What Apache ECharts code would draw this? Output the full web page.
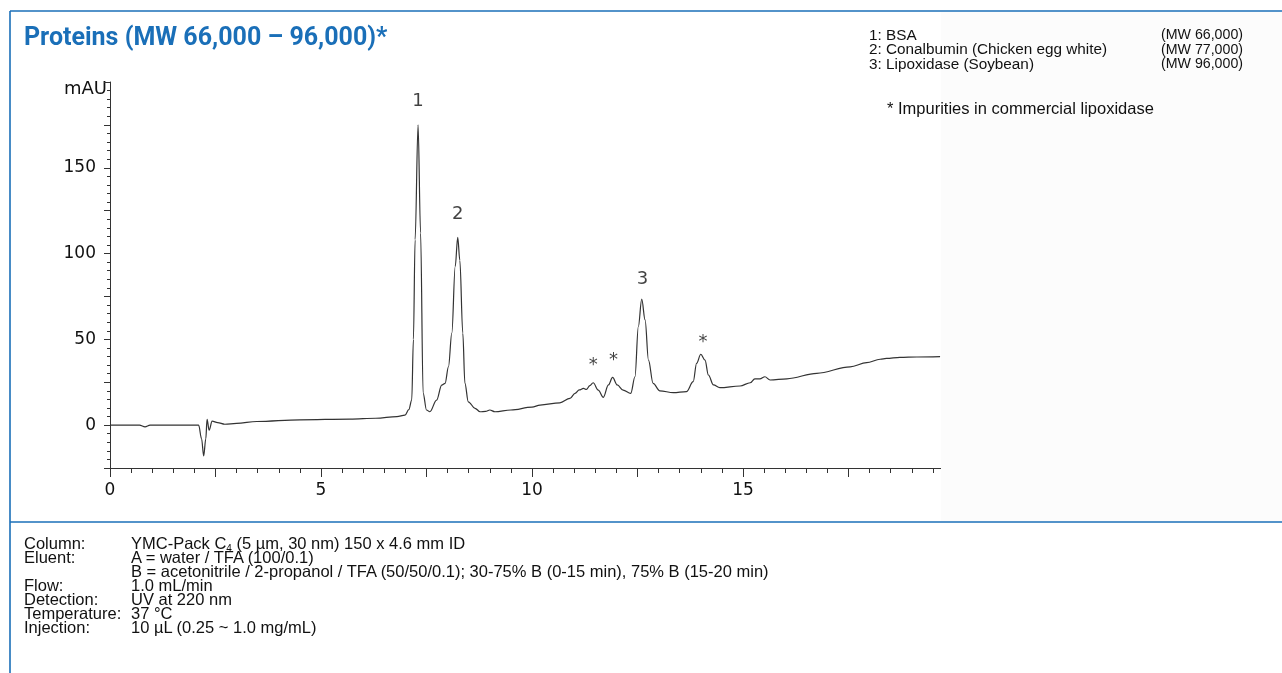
<!DOCTYPE html>
<html>
<head>
<meta charset="utf-8">
<script src="https://cdn.jsdelivr.net/npm/echarts@6/dist/echarts.min.js"></script>
<style>
  html, body { margin: 0; padding: 0; background: #ffffff; }
  #wrap { position: relative; width: 1282px; height: 673px; overflow: hidden; }
  #chart { position: absolute; left: 0; top: 0; width: 1282px; height: 673px; }
  #specs { position: absolute; left: 24px; top: 536px; font-family: "Liberation Sans", Arial, sans-serif;
           font-size: 16.5px; line-height: 14px; color: #111; white-space: nowrap; }
  #specs .row { display: flex; height: 14px; }
  #specs .k { width: 107px; }
  #specs sub { font-size: 10px; vertical-align: -3px; line-height: 0; }
</style>
</head>
<body>
<div id="wrap">
  <div id="chart"></div>
  <div id="specs">
    <div class="row"><div class="k">Column:</div><div>YMC-Pack C<sub>4</sub> (5 µm, 30 nm) 150 x 4.6 mm ID</div></div>
    <div class="row"><div class="k">Eluent:</div><div>A = water / TFA (100/0.1)</div></div>
    <div class="row"><div class="k"></div><div>B = acetonitrile / 2-propanol / TFA (50/50/0.1); 30-75% B (0-15 min), 75% B (15-20 min)</div></div>
    <div class="row"><div class="k">Flow:</div><div>1.0 mL/min</div></div>
    <div class="row"><div class="k">Detection:</div><div>UV at 220 nm</div></div>
    <div class="row"><div class="k">Temperature:</div><div>37 °C</div></div>
    <div class="row"><div class="k">Injection:</div><div>10 µL (0.25 ~ 1.0 mg/mL)</div></div>
  </div>
</div>
<script>
// ---- data ----
const times = [0, 0.7, 0.83, 0.95, 2.1, 2.17, 2.22, 2.27, 2.3, 2.35, 2.42, 2.55, 2.72, 3.0, 3.48, 4.5, 5.69, 6.3, 6.8, 6.99, 7.08, 7.15, 7.19, 7.23, 7.3, 7.36, 7.42, 7.5, 7.58, 7.74, 7.86, 7.94, 8.02, 8.1, 8.18, 8.24, 8.29, 8.36, 8.41, 8.49, 8.65, 8.77, 8.9, 9.0, 9.12, 9.5, 10.0, 10.19, 10.66, 10.9, 11.02, 11.12, 11.22, 11.29, 11.37, 11.45, 11.57, 11.69, 11.81, 11.91, 12.02, 12.16, 12.34, 12.44, 12.52, 12.6, 12.68, 12.76, 12.87, 13.03, 13.35, 13.66, 13.82, 13.9, 14.0, 14.1, 14.18, 14.3, 14.45, 14.93, 15.17, 15.28, 15.4, 15.52, 15.64, 16.04, 16.75, 17.54, 17.93, 18.25, 18.4, 18.72, 19.12, 19.67];
const signal = [0, 0, -1, 0, 0, -8, -18, -8, 3.3, -3, 2.3, 1.5, 0.5, 1, 2.1, 3.1, 3.5, 4, 5, 5.8, 9, 14.6, 50, 108, 175, 112, 18.7, 8.8, 7.8, 14.6, 23.3, 24.3, 34, 53.6, 92.4, 109.5, 96, 53.6, 24.5, 13.6, 9.8, 7.8, 8, 8.8, 7.8, 8.8, 10.5, 11.7, 13, 15.6, 18.5, 20.5, 21.4, 20.8, 23, 24.7, 20.4, 16.2, 23.4, 27.8, 23.4, 20.4, 18.5, 28.2, 57.4, 73.4, 61.3, 37.9, 24.3, 20, 18.9, 19.5, 25.3, 36, 41.3, 37.9, 29.2, 23.4, 21.8, 22.8, 24.7, 27, 26.9, 28.2, 26.3, 27, 30.2, 34, 36.4, 38.4, 38.9, 39.5, 39.7, 39.9];

const peakTimes  = [7.3, 8.24, 12.62, 11.45, 11.93, 14.05];
const peakLabelY = [189, 123, 85, 35, 37.5, 48];
const peakTexts  = ['1', '2', '3', '*', '*', '*'];

const xTickValues = [0, 5, 10, 15, 20];
const yTickValues = [0, 50, 100, 150];

const title = 'Proteins (MW 66,000 – 96,000)*';
const legendNames = ['1: BSA', '2: Conalbumin (Chicken egg white)', '3: Lipoxidase (Soybean)'];
const legendMW = ['(MW 66,000)', '(MW 77,000)', '(MW 96,000)'];
const footnote = '* Impurities in commercial lipoxidase';

// ---- chart ----
const chart = echarts.init(document.getElementById('chart'), null, { renderer: 'canvas' });
const lineData = times.map((t, i) => [t, signal[i]]);
const annData = peakTimes.map((t, i) => ({ value: [t, peakLabelY[i]], name: peakTexts[i] }));
const blue = '#1a6fb8';
const axisFont = '"DejaVu Sans", Verdana, sans-serif';
const txtFont = '"Liberation Sans", Arial, sans-serif';

const graphics = [
  { type: 'rect', shape: { x: 941, y: 12, width: 341, height: 509 }, style: { fill: '#fcfcfc' }, z: 50 },
  { type: 'line', shape: { x1: 10, y1: 11, x2: 1282, y2: 11 }, style: { stroke: blue, lineWidth: 1.6 }, z: 60 },
  { type: 'line', shape: { x1: 10, y1: 11, x2: 10, y2: 673 }, style: { stroke: blue, lineWidth: 1.6 }, z: 60 },
  { type: 'line', shape: { x1: 10, y1: 522, x2: 1282, y2: 522 }, style: { stroke: blue, lineWidth: 1.6 }, z: 60 }
];
legendNames.forEach((n, i) => {
  graphics.push({ type: 'text', x: 869, y: 28 + i * 14.5, z: 61,
    style: { text: n, font: '15.3px ' + txtFont, fill: '#111' } });
  graphics.push({ type: 'text', x: 1161, y: 28.5 + i * 14.5, z: 61,
    style: { text: legendMW[i], font: '14.2px ' + txtFont, fill: '#111' } });
});
graphics.push({ type: 'text', x: 887, y: 101, z: 61,
  style: { text: footnote, font: '16.5px ' + txtFont, fill: '#111' } });

chart.setOption({
  backgroundColor: '#ffffff',
  animation: false,
  title: {
    text: title, left: 19, top: 21,
    textStyle: { fontFamily: 'Roboto, "Liberation Sans", sans-serif', fontWeight: 'bold', fontSize: 25, color: blue }
  },
  grid: { left: 110, right: 328, top: 82, bottom: 205 },
  xAxis: {
    type: 'value', min: 0, max: 20, interval: 2.5,
    axisLine: { show: true, onZero: false, lineStyle: { color: '#333', width: 1 } },
    axisTick: { show: true, length: 9, lineStyle: { color: '#333' } },
    minorTick: { show: true, splitNumber: 5, length: 5, lineStyle: { color: '#333' } },
    splitLine: { show: false },
    axisLabel: {
      margin: 14, color: '#111', fontSize: 17, fontFamily: axisFont,
      formatter: v => (xTickValues.indexOf(v) >= 0 ? String(v) : '')
    }
  },
  yAxis: {
    type: 'value', min: -25, max: 200, interval: 25,
    name: 'mAU', nameLocation: 'end', nameGap: -7,
    nameTextStyle: { fontFamily: axisFont, fontSize: 18, color: '#111', align: 'right', verticalAlign: 'middle', padding: [0, 3, 0, 0] },
    axisLine: { show: true, onZero: false, lineStyle: { color: '#333', width: 1 } },
    axisTick: { show: true, length: 6, lineStyle: { color: '#333' } },
    minorTick: { show: true, splitNumber: 5, length: 3, lineStyle: { color: '#333' } },
    splitLine: { show: false },
    axisLabel: {
      margin: 14, color: '#111', fontSize: 17, fontFamily: axisFont,
      formatter: v => (yTickValues.indexOf(v) >= 0 ? String(v) : '')
    }
  },
  series: [
    {
      type: 'line', data: lineData, showSymbol: false, smooth: 0.35, smoothMonotone: 'x',
      lineStyle: { color: '#333', width: 1.2 }, z: 3
    },
    {
      type: 'scatter', data: annData, symbolSize: 0, z: 4,
      label: { show: true, position: 'inside', formatter: p => p.name,
               fontFamily: axisFont, fontSize: 18, color: '#111' }
    }
  ],
  graphic: graphics
});
</script>
</body>
</html>
